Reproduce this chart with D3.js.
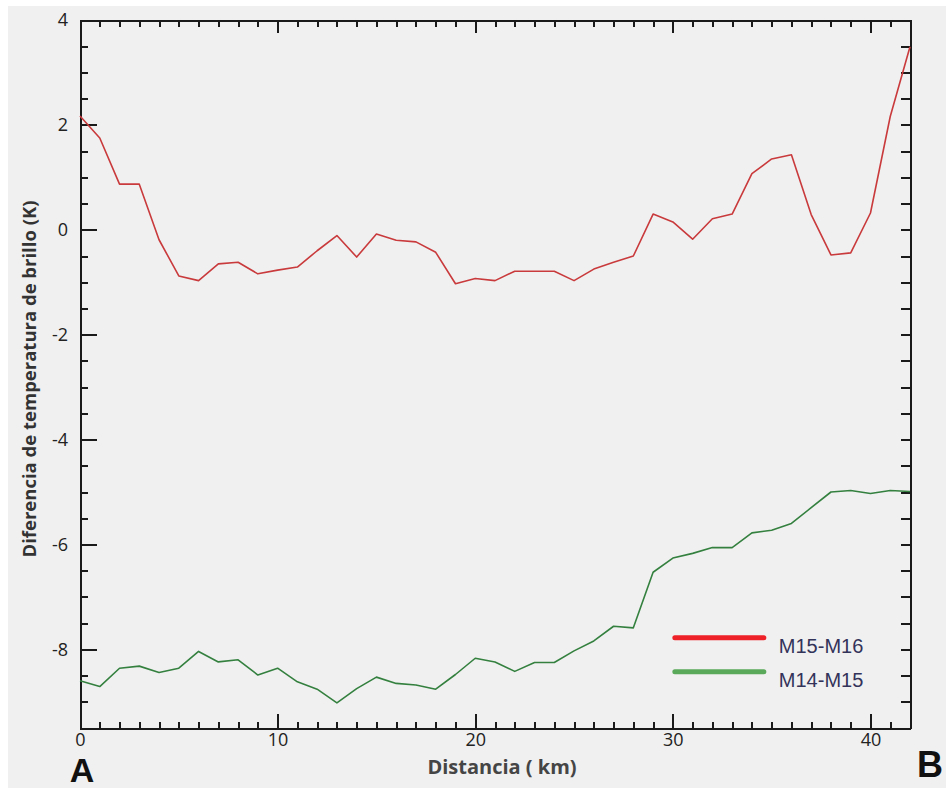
<!DOCTYPE html>
<html lang="es">
<head>
  <meta charset="UTF-8">
  <title>Diferencia de temperatura de brillo</title>
  <script src="https://cdn.jsdelivr.net/npm/d3@7"></script>
  <style>
    html, body { margin: 0; padding: 0; background: #fff; }
    svg { display: block; }
    .axis path, .axis line { stroke: #1a1a1a; stroke-width: 2; shape-rendering: crispEdges; }
    .axis text { font-family: 'Open Sans', sans-serif; font-size: 18px; fill: #222; }
  </style>
</head>
<body>
  <div id="chart"></div>
  <script>
    // distancia (km), one sample per km
    const distance = d3.range(0, 43)

    const m15m16 = [
      2.17, 1.75, 0.87, 0.87, -0.19, -0.88, -0.97, -0.65, -0.62, -0.84,
      -0.77, -0.71, -0.40, -0.11, -0.52, -0.08, -0.20, -0.23, -0.43, -1.03,
      -0.93, -0.97, -0.79, -0.79, -0.79, -0.97, -0.75, -0.62, -0.50, 0.30,
      0.15, -0.18, 0.21, 0.30, 1.07, 1.35, 1.43, 0.29, -0.48, -0.44,
      0.32, 2.16, 3.49
    ]

    const m14m15 = [
      -8.60, -8.71, -8.36, -8.32, -8.44, -8.36, -8.04, -8.24, -8.20, -8.49,
      -8.36, -8.62, -8.76, -9.02, -8.75, -8.53, -8.65, -8.68, -8.76, -8.48,
      -8.17, -8.24, -8.42, -8.25, -8.25, -8.03, -7.84, -7.56, -7.59, -6.53,
      -6.26, -6.17, -6.06, -6.06, -5.78, -5.73, -5.60, -5.30, -5.00, -4.97,
      -5.03, -4.97, -4.99
    ]

    const seriesNames = ['M15-M16', 'M14-M15']
    const seriesColors = ['#c93a3c', '#34803f']
    const legendColors = ['#ee2028', '#5aa85a']

    const xMajorTicks = [0, 10, 20, 30, 40]
    const yMajorTicks = [-8, -6, -4, -2, 0, 2, 4]

    const width = 946
    const height = 790
    const margin = { top: 20, right: 36, bottom: 62, left: 80 }
    const plotW = width - margin.left - margin.right
    const plotH = height - margin.top - margin.bottom

    const svg = d3.select('#chart').append('svg')
      .attr('width', width)
      .attr('height', height)

    svg.append('rect')
      .attr('x', 8).attr('y', 6)
      .attr('width', width - 8).attr('height', height - 8)
      .attr('fill', '#f0f0f0')

    const g = svg.append('g')
      .attr('transform', `translate(${margin.left},${margin.top})`)

    const x = d3.scaleLinear().domain([0, 42]).range([0, plotW])
    const y = d3.scaleLinear().domain([-9.5, 4]).range([plotH, 0])

    const minorX = d3.range(0, 43)
    const minorY = d3.range(-9.5, 4.01, 0.5)
    const plain = d => String(d)   // hyphen minus like the original

    // bottom axis
    g.append('g').attr('class', 'axis')
      .attr('transform', `translate(0,${plotH})`)
      .call(d3.axisBottom(x).tickValues(minorX).tickSize(-6).tickSizeOuter(0).tickFormat(''))
    g.append('g').attr('class', 'axis')
      .attr('transform', `translate(0,${plotH})`)
      .call(d3.axisBottom(x).tickValues(xMajorTicks).tickSize(-14).tickSizeOuter(0).tickPadding(5).tickFormat(plain))

    // top axis
    g.append('g').attr('class', 'axis')
      .call(d3.axisTop(x).tickValues(minorX).tickSize(-7).tickSizeOuter(0).tickFormat(''))
    g.append('g').attr('class', 'axis')
      .call(d3.axisTop(x).tickValues(xMajorTicks).tickSize(-13).tickSizeOuter(0).tickFormat(''))

    // left axis
    g.append('g').attr('class', 'axis')
      .call(d3.axisLeft(y).tickValues(minorY).tickSize(-8).tickSizeOuter(0).tickFormat(''))
    g.append('g').attr('class', 'axis')
      .call(d3.axisLeft(y).tickValues(yMajorTicks).tickSize(-17).tickSizeOuter(0).tickPadding(12).tickFormat(plain))

    // right axis
    g.append('g').attr('class', 'axis')
      .attr('transform', `translate(${plotW},0)`)
      .call(d3.axisRight(y).tickValues(minorY).tickSize(-9).tickSizeOuter(0).tickFormat(''))

    g.selectAll('.axis .domain').raise()

    const line = d3.line()
      .x((d, i) => x(distance[i]))
      .y(d => y(d))

    g.selectAll('.series')
      .data([m15m16, m14m15])
      .enter().append('path')
      .attr('class', 'series')
      .attr('fill', 'none')
      .attr('stroke', (d, i) => seriesColors[i])
      .attr('stroke-width', 1.6)
      .attr('stroke-linejoin', 'round')
      .attr('d', line)

    // legend
    const legend = g.append('g')
      .attr('transform', `translate(${x(30.1)},${y(-7.78)})`)
    seriesNames.forEach((name, i) => {
      legend.append('line')
        .attr('x1', 0).attr('x2', 89)
        .attr('y1', i * 34).attr('y2', i * 34)
        .attr('stroke', legendColors[i])
        .attr('stroke-width', 5)
        .attr('stroke-linecap', 'round')
      legend.append('text')
        .attr('x', 104).attr('y', i * 34 + 15)
        .style('font-family', "'Liberation Sans', Arial, sans-serif")
        .style('font-size', '20px')
        .attr('fill', '#33335a')
        .text(name)
    })

    // axis titles
    svg.append('text')
      .attr('x', 502).attr('y', 774)
      .attr('text-anchor', 'middle')
      .style('font-family', "'Open Sans', sans-serif")
      .style('font-size', '20px')
      .style('font-weight', 'bold')
      .attr('fill', '#454545')
      .text('Distancia ( km)')

    svg.append('text')
      .attr('transform', `translate(36,379) rotate(-90)`)
      .attr('text-anchor', 'middle')
      .style('font-family', "'Open Sans', sans-serif")
      .style('font-size', '18.5px')
      .style('font-weight', 'bold')
      .attr('fill', '#333')
      .text('Diferencia de temperatura de brillo (K)')

    // profile end markers
    svg.append('text')
      .attr('x', 82).attr('y', 782)
      .attr('text-anchor', 'middle')
      .style('font-family', "'Liberation Sans', Arial, sans-serif")
      .style('font-size', '34px')
      .style('font-weight', 'bold')
      .attr('fill', '#111')
      .text('A')

    svg.append('text')
      .attr('x', 930).attr('y', 777)
      .attr('text-anchor', 'middle')
      .style('font-family', "'Liberation Sans', Arial, sans-serif")
      .style('font-size', '36px')
      .style('font-weight', 'bold')
      .attr('fill', '#111')
      .text('B')
  </script>
</body>
</html>
